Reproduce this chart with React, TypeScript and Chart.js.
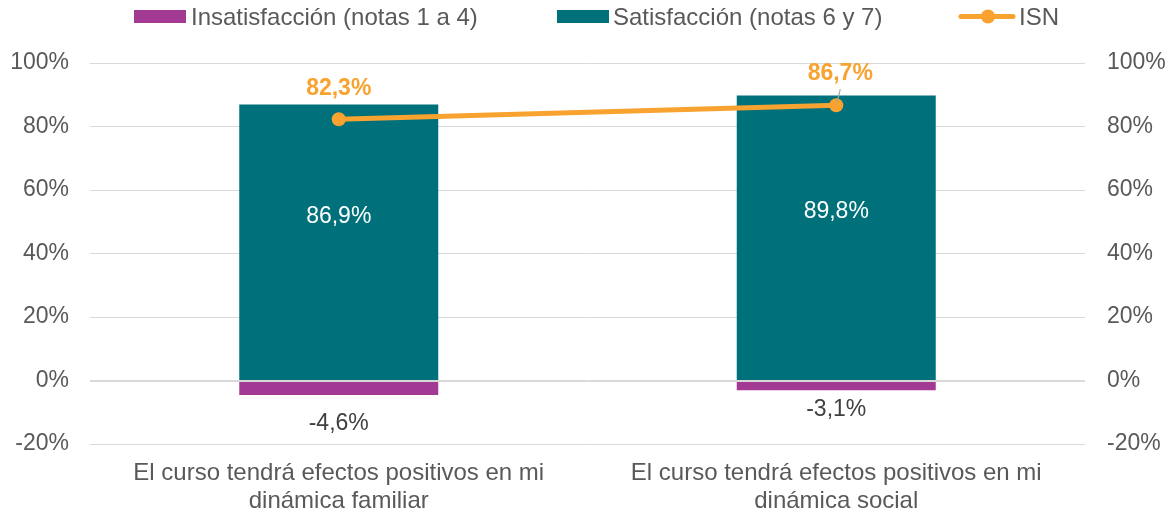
import React, { useEffect, useRef } from "react";
import { Chart, registerables } from "chart.js";

Chart.register(...registerables);

const categories: string[][] = [
  ["El curso tendrá efectos positivos en mi", "dinámica familiar"],
  ["El curso tendrá efectos positivos en mi", "dinámica social"],
];
const insatisfaccion: number[] = [-4.6, -3.1];
const satisfaccion: number[] = [86.9, 89.8];
const isn: number[] = [82.3, 86.7];
const yTicks: number[] = [-20, 0, 20, 40, 60, 80, 100];

const PURPLE = "#A23A93";
const TEAL = "#00707B";
const ORANGE = "#F8A230";
const GRAY_TEXT = "#595959";
const FONT = "'Liberation Sans', Arial, sans-serif";

const fmt = (v: number) => v.toFixed(1).replace(".", ",") + "%";

const labelsPlugin = {
  id: "customLabels",
  afterDatasetsDraw(chart: any) {
    const ctx = chart.ctx;
    const y = chart.scales.y;
    const area = chart.chartArea;
    ctx.save();
    // zero line over bars
    const zy = Math.round(y.getPixelForValue(0)) + 0.5;
    ctx.strokeStyle = "#d9d9d9";
    ctx.lineWidth = 1;
    ctx.beginPath();
    ctx.moveTo(area.left, zy);
    ctx.lineTo(area.right, zy);
    ctx.stroke();

    const metaIns = chart.getDatasetMeta(2);
    const metaSat = chart.getDatasetMeta(1);
    const metaIsn = chart.getDatasetMeta(0);
    ctx.textAlign = "center";
    ctx.textBaseline = "middle";
    // satisfaction labels
    ctx.font = `23px ${FONT}`;
    ctx.fillStyle = "#ffffff";
    metaSat.data.forEach((bar: any, i: number) => {
      ctx.fillText(fmt(satisfaccion[i]), bar.x, y.getPixelForValue(satisfaccion[i] * 0.6) + 2);
    });
    // insatisfaction labels
    ctx.fillStyle = "#404040";
    metaIns.data.forEach((bar: any, i: number) => {
      ctx.fillText(fmt(insatisfaccion[i]), bar.x, y.getPixelForValue(insatisfaccion[i] * 2.95));
    });
    // ISN labels
    ctx.font = `bold 23px ${FONT}`;
    ctx.fillStyle = ORANGE;
    metaIsn.data.forEach((pt: any, i: number) => {
      if (i === 1) {
        ctx.fillText(fmt(isn[i]), pt.x + 4, pt.y - 32);
        ctx.strokeStyle = "#a6a6a6";
        ctx.lineWidth = 1.2;
        ctx.beginPath();
        ctx.moveTo(pt.x + 4, pt.y - 16);
        ctx.lineTo(pt.x + 1, pt.y - 3);
        ctx.stroke();
      } else {
        ctx.fillText(fmt(isn[i]), pt.x, pt.y - 31);
      }
    });
    ctx.restore();
  },
  afterDraw(chart: any) {
    const ctx = chart.ctx;
    ctx.save();
    ctx.font = `24px ${FONT}`;
    ctx.textBaseline = "alphabetic";
    ctx.textAlign = "left";
    ctx.fillStyle = PURPLE;
    ctx.fillRect(134, 10, 52, 13);
    ctx.fillStyle = GRAY_TEXT;
    ctx.fillText("Insatisfacción (notas 1 a 4)", 191, 25);
    ctx.fillStyle = TEAL;
    ctx.fillRect(557, 10, 52, 13);
    ctx.fillStyle = GRAY_TEXT;
    ctx.fillText("Satisfacción (notas 6 y 7)", 613, 25);
    ctx.strokeStyle = ORANGE;
    ctx.lineWidth = 5;
    ctx.lineCap = "round";
    ctx.beginPath();
    ctx.moveTo(961, 16.5);
    ctx.lineTo(1013, 16.5);
    ctx.stroke();
    ctx.fillStyle = ORANGE;
    ctx.beginPath();
    ctx.arc(988, 16.5, 7, 0, Math.PI * 2);
    ctx.fill();
    ctx.fillStyle = GRAY_TEXT;
    ctx.fillText("ISN", 1019, 25);
    ctx.restore();
  },
};

export default function App() {
  const ref = useRef<HTMLCanvasElement>(null);
  useEffect(() => {
    document.body.style.margin = "0";
    const canvas = ref.current!;
    const tickFont = { family: FONT, size: 23 };
    const chart = new Chart(canvas, {
      type: "bar",
      data: {
        labels: categories as any,
        datasets: [
          {
            type: "line",
            label: "ISN",
            data: isn,
            borderColor: ORANGE,
            backgroundColor: ORANGE,
            borderWidth: 5,
            pointRadius: 7,
            pointBackgroundColor: ORANGE,
            pointBorderColor: ORANGE,
            pointBorderWidth: 0,
            yAxisID: "y2",
            order: 0,
          } as any,
          {
            type: "bar",
            label: "Satisfacción (notas 6 y 7)",
            data: satisfaccion,
            backgroundColor: TEAL,
            categoryPercentage: 1,
            barPercentage: 0.4,
            yAxisID: "y",
            order: 1,
          },
          {
            type: "bar",
            label: "Insatisfacción (notas 1 a 4)",
            data: insatisfaccion,
            backgroundColor: PURPLE,
            categoryPercentage: 1,
            barPercentage: 0.4,
            yAxisID: "y",
            order: 2,
          },
        ],
      },
      options: {
        responsive: false,
        animation: false,
        devicePixelRatio: 1,
        layout: { padding: { top: 63, left: 0, right: 0, bottom: 0 } },
        plugins: { legend: { display: false }, tooltip: { enabled: false } },
        scales: {
          x: {
            stacked: true,
            grid: { display: false },
            border: { display: false },
            ticks: {
              font: { family: FONT, size: 24, lineHeight: 28 / 24 },
              color: GRAY_TEXT,
              padding: 7,
              maxRotation: 0,
              autoSkip: false,
            },
            afterFit: (s: any) => {
              s.height = 71;
            },
          },
          y: {
            stacked: true,
            min: -20,
            max: 100,
            afterBuildTicks: (s: any) => {
              s.ticks = yTicks.map((v) => ({ value: v }));
            },
            ticks: {
              font: tickFont,
              color: GRAY_TEXT,
              padding: 21,
              callback: (v: any) => v + "%",
            },
            grid: { color: "#d9d9d9", drawTicks: false, lineWidth: 1 },
            border: { display: false },
            afterFit: (s: any) => {
              s.width = 90;
            },
          },
          y2: {
            position: "right",
            min: -20,
            max: 100,
            afterBuildTicks: (s: any) => {
              s.ticks = yTicks.map((v) => ({ value: v }));
            },
            ticks: {
              font: tickFont,
              color: GRAY_TEXT,
              padding: 22,
              callback: (v: any) => v + "%",
            },
            grid: { display: false, drawTicks: false },
            border: { display: false },
            afterFit: (s: any) => {
              s.width = 89;
            },
          },
        },
      } as any,
      plugins: [labelsPlugin],
    });
    return () => chart.destroy();
  }, []);
  return <canvas ref={ref} width={1174} height={515} style={{ display: "block" }} />;
}
